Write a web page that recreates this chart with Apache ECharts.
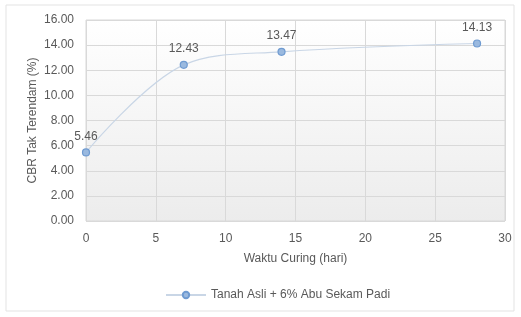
<!DOCTYPE html>
<html lang="en">
<head>
    <meta charset="UTF-8">
    <script src="https://cdn.jsdelivr.net/npm/echarts@6/dist/echarts.min.js"></script>
    <style>body{margin:0;background:#fff}</style>
</head>
<body>
<div id="main" style="width:521px;height:317px;"></div>
<script type="text/javascript">
    var curingDays = [0, 7, 14, 28];
    var cbrValues = [5.46, 12.43, 13.47, 14.13];
    var seriesName = 'Tanah Asli + 6% Abu Sekam Padi';

    var myChart = echarts.init(document.getElementById('main'));
    var txt = '#595959';
    var font = 'Liberation Sans, Arial, sans-serif';

    var option = {
        animation: false,
        textStyle: { fontFamily: font },
        graphic: [{
            type: 'rect',
            shape: { x: 6, y: 5, width: 508, height: 306 },
            style: { fill: 'none', stroke: '#e3e3e3', lineWidth: 1 },
            silent: true
        }],
        grid: {
            left: 86, right: 16, top: 20, bottom: 96,
            show: true,
            borderColor: '#d9d9d9',
            borderWidth: 1,
            backgroundColor: new echarts.graphic.LinearGradient(0, 0, 0, 1, [
                { offset: 0, color: '#ffffff' },
                { offset: 1, color: '#ececec' }
            ])
        },
        legend: {
            bottom: 11,
            left: 160,
            data: [seriesName],
            itemWidth: 40,
            itemHeight: 8,
            itemGap: 4,
            textStyle: { color: txt, fontSize: 12, fontFamily: font }
        },
        xAxis: {
            type: 'value',
            min: 0, max: 30, interval: 5,
            name: 'Waktu Curing (hari)',
            nameLocation: 'middle',
            nameGap: 32,
            nameTextStyle: { color: txt, fontSize: 12 },
            axisLine: { show: false },
            axisTick: { show: false },
            axisLabel: { color: txt, fontSize: 12, margin: 12 },
            splitLine: { lineStyle: { color: '#d9d9d9' } }
        },
        yAxis: {
            type: 'value',
            min: 0, max: 16, interval: 2,
            name: 'CBR Tak Terendam (%)',
            nameLocation: 'middle',
            nameGap: 47,
            nameMoveOverlap: false,
            nameTextStyle: { color: txt, fontSize: 12 },
            axisLine: { show: false },
            axisTick: { show: false },
            axisLabel: {
                color: txt, fontSize: 12, margin: 12,
                formatter: function (v) { return v.toFixed(2); }
            },
            splitLine: { lineStyle: { color: '#d9d9d9' } }
        },
        series: [{
            name: seriesName,
            type: 'line',
            smooth: 0.35,
            data: curingDays.map(function (d, i) { return [d, cbrValues[i]]; }),
            symbol: 'circle',
            symbolSize: 7,
            lineStyle: { color: '#c9d6e6', width: 1.2 },
            itemStyle: { color: '#9ab9df', borderColor: '#6f9bd1', borderWidth: 1.2 },
            label: {
                show: true, position: 'top', distance: 6,
                color: txt, fontSize: 12,
                formatter: function (p) { return p.value[1].toFixed(2); }
            }
        }]
    };

    myChart.setOption(option);
</script>
</body>
</html>
